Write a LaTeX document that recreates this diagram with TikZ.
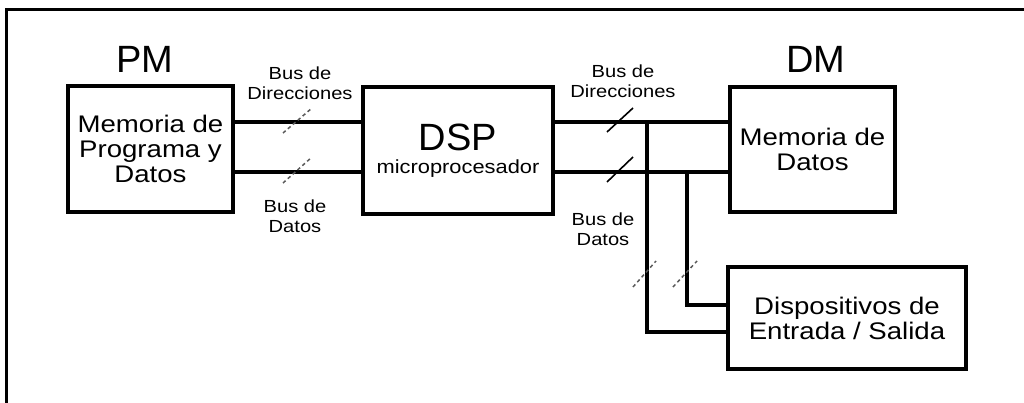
\documentclass[tikz,border=0pt]{standalone}
\usepackage{fontspec}
\setmainfont{Liberation Sans}
\newfontfamily\wide[FakeStretch=1.15]{Liberation Sans}
\begin{document}
\begin{tikzpicture}[x=1pt,y=-1pt,
  box/.style={draw,line width=3.5pt,inner sep=0pt,align=center,
    font=\wide\fontsize{24}{25}\selectfont},
  bus/.style={line width=4pt},
  frame/.style={line width=3.5pt},
  big/.style={font=\fontsize{38}{38}\selectfont,inner sep=0pt},
  lab/.style={font=\wide\fontsize{17.5}{20.5}\selectfont,align=center,inner sep=0pt},
  slashs/.style={line width=1.6pt},
  slashd/.style={line width=1.5pt,black!65,dash pattern=on 3.5pt off 3pt}]
\useasboundingbox (0,0) rectangle (1024,403);
% frame
\coordinate (fb) at (6.5,403);
\coordinate (fc) at (6.5,9.5);
\coordinate (fr) at (1024,9.5);
\draw[frame] (fb) -- (fc) -- (fr);
% boxes
\node[box,minimum width=165,minimum height=126] (pm) at (150.5,149) {Memoria de\\Programa y\\Datos};
\node[box,minimum width=190,minimum height=127,font=\wide\fontsize{19}{23}\selectfont] (dsp) at (458,150.5)
  {{\normalfont\fontsize{38}{38}\selectfont DSP}\\microprocesador};
\node[box,minimum width=165,minimum height=125] (dm) at (812.5,149.5) {Memoria de\\Datos};
\node[box,minimum width=238,minimum height=102] (io) at (847,318) {Dispositivos de\\Entrada / Salida};
% titles
\node[big] (pmt) at (145,59) {PM};
\node[big] (dmt) at (816,59) {DM};
% bus levels
\coordinate (ya) at (0,122);
\coordinate (yd) at (0,172);
\coordinate (y1) at (0,332);
\coordinate (y2) at (0,305);
\coordinate (v1) at (647,122);
\coordinate (v2) at (687,172);
\draw[bus] (pm.east |- ya) -- (dsp.west |- ya);
\draw[bus] (pm.east |- yd) -- (dsp.west |- yd);
\draw[bus] (dsp.east |- ya) -- (dm.west |- ya);
\draw[bus] (dsp.east |- yd) -- (dm.west |- yd);
\draw[bus] (v1) |- (io.west |- y1);
\draw[bus] (v2) |- (io.west |- y2);
% slashes
\draw[slashd] (283,133) -- (312,108);
\draw[slashd] (283,183) -- (312,157);
\draw[slashs] (607,132) -- (633,108);
\draw[slashs] (607,182) -- (633,157);
\draw[slashd] (633,287) -- (656,261);
\draw[slashd] (673,287) -- (697,261);
% labels
\node[lab] (l1) at (300,83) {Bus de\\Direcciones};
\node[lab] (l2) at (295,216) {Bus de\\Datos};
\node[lab] (l3) at (623,81) {Bus de\\Direcciones};
\node[lab] (l4) at (603,229) {Bus de\\Datos};
\end{tikzpicture}
\end{document}
